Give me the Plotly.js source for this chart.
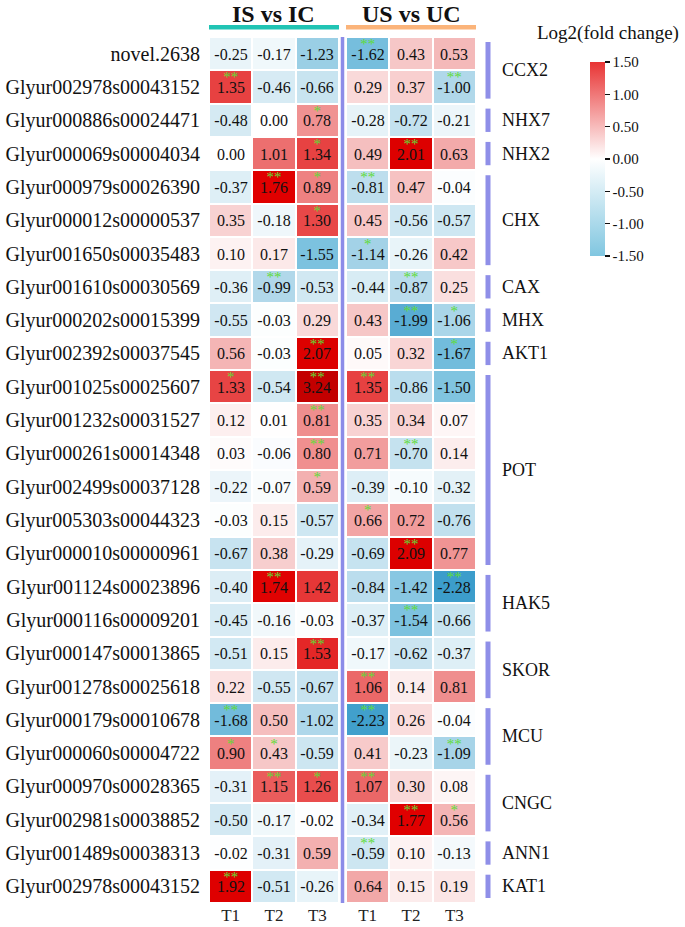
<!DOCTYPE html>
<html>
<head>
<meta charset="utf-8">
<script src="https://cdn.plot.ly/plotly-3.0.1.min.js"></script>
<style>html,body{margin:0;padding:0;background:#fff;}#chart{width:685px;height:927px;}</style>
</head>
<body>
<div id="chart"></div>
<script>
const genes = ["novel.2638","Glyur002978s00043152","Glyur000886s00024471","Glyur000069s00004034","Glyur000979s00026390","Glyur000012s00000537","Glyur001650s00035483","Glyur001610s00030569","Glyur000202s00015399","Glyur002392s00037545","Glyur001025s00025607","Glyur001232s00031527","Glyur000261s00014348","Glyur002499s00037128","Glyur005303s00044323","Glyur000010s00000961","Glyur001124s00023896","Glyur000116s00009201","Glyur000147s00013865","Glyur001278s00025618","Glyur000179s00010678","Glyur000060s00004722","Glyur000970s00028365","Glyur002981s00038852","Glyur001489s00038313","Glyur002978s00043152"];
const timePoints = ["T1","T2","T3"];
const isT1 = [-0.25,1.35,-0.48,0.00,-0.37,0.35,0.10,-0.36,-0.55,0.56,1.33,0.12,0.03,-0.22,-0.03,-0.67,-0.40,-0.45,-0.51,0.22,-1.68,0.90,-0.31,-0.50,-0.02,1.92];
const isT2 = [-0.17,-0.46,0.00,1.01,1.76,-0.18,0.17,-0.99,-0.03,-0.03,-0.54,0.01,-0.06,-0.07,0.15,0.38,1.74,-0.16,0.15,-0.55,0.50,0.43,1.15,-0.17,-0.31,-0.51];
const isT3 = [-1.23,-0.66,0.78,1.34,0.89,1.30,-1.55,-0.53,0.29,2.07,3.24,0.81,0.80,0.59,-0.57,-0.29,1.42,-0.03,1.53,-0.67,-1.02,-0.59,1.26,-0.02,0.59,-0.26];
const usT1 = [-1.62,0.29,-0.28,0.49,-0.81,0.45,-1.14,-0.44,0.43,0.05,1.35,0.35,0.71,-0.39,0.66,-0.69,-0.84,-0.37,-0.17,1.06,-2.23,0.41,1.07,-0.34,-0.59,0.64];
const usT2 = [0.43,0.37,-0.72,2.01,0.47,-0.56,-0.26,-0.87,-1.99,0.32,-0.86,0.34,-0.70,-0.10,0.72,2.09,-1.42,-1.54,-0.62,0.14,0.26,-0.23,0.30,1.77,0.10,0.15];
const usT3 = [0.53,-1.00,-0.21,0.63,-0.04,-0.57,0.42,0.25,-1.06,-1.67,-1.50,0.07,0.14,-0.32,-0.76,0.77,-2.28,-0.66,-0.37,0.81,-0.04,-1.09,0.08,0.56,-0.13,0.19];
const isT1Sig = ["","**","","","","","","","","","*","","","","","","","","","","**","*","","","","**"];
const isT2Sig = ["","","","","**","","","**","","","","","","","","","**","","","","","*","**","","",""];
const isT3Sig = ["","","*","*","*","*","","","","**","**","**","**","*","","","","","**","","","","*","","",""];
const usT1Sig = ["**","","","","**","","*","","","","**","","","","*","","","","","**","**","","**","","**",""];
const usT2Sig = ["","","","**","","","","**","**","","","","**","","","**","","**","","","","","","**","",""];
const usT3Sig = ["","**","","","","","","","*","*","","","","","","","**","","","","","**","","*","",""];
const groupNames = ["CCX2","NHX7","NHX2","CHX","CAX","MHX","AKT1","POT","HAK5","SKOR","MCU","CNGC","ANN1","KAT1"];
const groupStart = [0,2,3,4,7,8,9,10,16,18,20,22,24,25];
const groupEnd   = [1,2,3,6,7,8,9,15,17,19,21,23,24,25];
const colorTicks = [-1.5,-1.0,-0.5,0,0.5,1.0,1.5];

const W = 685, H = 927;
const px = v => v / W;
const py = v => 1 - v / H;
const FONT = "Liberation Serif, Times New Roman, serif";

const ZMIN = -2.3, ZMAX = 3.3;
const stops = [[-2.3,"#3a9cca"],[-2.0,"#58acd3"],[-1.5,"#80c4e0"],[-1.0,"#b0d8ea"],[-0.5,"#d3e9f3"],[0,"#ffffff"],[0.5,"#f5bebe"],[1.0,"#ec7070"],[1.3,"#e84848"],[1.5,"#e42c2c"],[1.75,"#e00000"],[2.1,"#dc0000"],[3.3,"#c20000"]];
const cscale = stops.map(s => [(s[0]-ZMIN)/(ZMAX-ZMIN), s[1]]);

const rowIdx = genes.map((g,i)=>i);
const zIS = rowIdx.map(i => [isT1[i], isT2[i], isT3[i]]);
const zUS = rowIdx.map(i => [usT1[i], usT2[i], usT3[i]]);
const sigIS = [isT1Sig, isT2Sig, isT3Sig];
const sigUS = [usT1Sig, usT2Sig, usT3Sig];

function hm(z, xa) {
  return {type:"heatmap", z:z, x:[0,1,2], y:rowIdx, xaxis:xa, yaxis:"y",
    colorscale:cscale, zmin:ZMIN, zmax:ZMAX, showscale:false, xgap:2, ygap:2,
    texttemplate:"%{z:.2f}", textfont:{family:FONT, size:16, color:"#111"}, hoverinfo:"skip"};
}
function starTrace(sigs, xa) {
  const x=[], y=[], t=[];
  sigs.forEach((col, c) => col.forEach((s, r) => { if (s) { x.push(c); y.push(r - 0.25); t.push(s); } }));
  return {type:"scatter", mode:"text", x:x, y:y, text:t, xaxis:xa, yaxis:"y",
    textfont:{family:FONT, size:15, color:"#5fdc36"}, hoverinfo:"skip", showlegend:false};
}

const traces = [hm(zIS,"x"), hm(zUS,"x2"), starTrace(sigIS,"x"), starTrace(sigUS,"x2"),
  {type:"scatter", mode:"markers", x:[0,0], y:[0,0], xaxis:"x3", yaxis:"y3", hoverinfo:"skip", showlegend:false,
   marker:{color:[-1.5,1.5], cmin:-1.5, cmax:1.5, opacity:0,
     colorscale:[[0,"#80c6e0"],[0.5,"#ffffff"],[1,"#e83434"]], showscale:true,
     colorbar:{x:px(590), xanchor:"left", y:py(159), yanchor:"middle", len:194, lenmode:"pixels",
       thickness:15, thicknessmode:"pixels", outlinewidth:0, xpad:0, ypad:0,
       ticks:"outside", ticklen:5, tickwidth:1.5, tickcolor:"#111",
       tickvals:colorTicks, ticktext:colorTicks.map(v=>v.toFixed(2)),
       tickfont:{family:FONT, size:15, color:"#111"}}}}
];

const xBase = {range:[-0.5,2.5], tickvals:[0,1,2], ticktext:timePoints, ticks:"", showgrid:false, zeroline:false,
  showline:false, fixedrange:true, tickfont:{family:FONT, size:17, color:"#222"}, anchor:"y"};

const shapes = [
  {type:"rect", xref:"paper", yref:"paper", x0:px(209), x1:px(339), y0:py(25), y1:py(29.5), fillcolor:"#20c4b4", line:{width:0}},
  {type:"rect", xref:"paper", yref:"paper", x0:px(346), x1:px(476), y0:py(25), y1:py(29.5), fillcolor:"#fbb47a", line:{width:0}},
  {type:"line", xref:"paper", yref:"y", x0:px(342.5), x1:px(342.5), y0:-0.5, y1:25.5, line:{color:"#8c8ce8", width:3.5}}
];
const annotations = [
  {text:"<b>IS vs IC</b>", xref:"paper", yref:"paper", x:px(273), y:py(14), yanchor:"middle", showarrow:false, font:{family:FONT, size:24, color:"#111"}},
  {text:"<b>US vs UC</b>", xref:"paper", yref:"paper", x:px(411), y:py(14), yanchor:"middle", showarrow:false, font:{family:FONT, size:24, color:"#111"}},
  {text:"Log2(fold change)", xref:"paper", yref:"paper", x:px(535), xanchor:"left", y:py(33), yanchor:"middle", showarrow:false, font:{family:FONT, size:19, color:"#111"}}
];
groupNames.forEach((g,i) => {
  shapes.push({type:"rect", xref:"paper", yref:"y", x0:px(485.5), x1:px(490.5), y0:groupStart[i]-0.5+0.15, y1:groupEnd[i]+0.5-0.15, fillcolor:"#8f8fe8", line:{width:0}});
  annotations.push({text:g, xref:"paper", yref:"y", x:px(500), xanchor:"left", y:(groupStart[i]+groupEnd[i])/2, yanchor:"middle", showarrow:false, font:{family:FONT, size:18, color:"#111"}});
});

const layout = {
  width:W, height:H, margin:{l:0,r:0,t:0,b:0}, paper_bgcolor:"#fff", plot_bgcolor:"#fff", showlegend:false,
  xaxis:Object.assign({}, xBase, {domain:[px(209), px(339)]}),
  xaxis2:Object.assign({}, xBase, {domain:[px(346), px(476)]}),
  yaxis:{domain:[py(903), py(37)], range:[25.5,-0.5], tickvals:rowIdx, ticktext:genes, ticks:"", showgrid:false, zeroline:false,
    showline:false, fixedrange:true, ticklabelstandoff:8, tickfont:{family:FONT, size:20, color:"#111"}},
  xaxis3:{domain:[0,0.001], visible:false, range:[5,6], anchor:"y3"},
  yaxis3:{domain:[0,0.001], visible:false, range:[5,6], anchor:"x3"},
  shapes:shapes, annotations:annotations
};
Plotly.newPlot("chart", traces, layout, {displayModeBar:false, staticPlot:true});
</script>
</body>
</html>
